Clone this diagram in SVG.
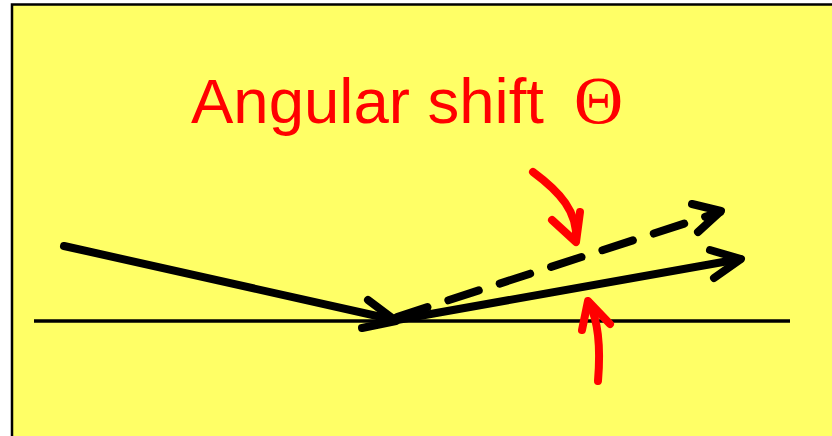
<svg xmlns="http://www.w3.org/2000/svg" width="832" height="436" viewBox="0 0 832 436">
<style>
.k{fill:none;stroke:#000;stroke-linecap:round;stroke-linejoin:round}
.r{fill:none;stroke:#f00;stroke-width:8;stroke-linecap:round;stroke-linejoin:round}
.t{fill:#f00;font-family:"Liberation Sans",Arial,sans-serif;font-size:63.5px}
</style>
<rect x="12" y="4.5" width="840" height="450" fill="#ffff66" stroke="#000" stroke-width="2.5"/>
<g id="title"><text class="t" x="191" y="123">Angular shift</text><text x="574" y="123" fill="#f00" font-family="Liberation Serif,serif" font-size="68">Θ</text></g>
<g id="surface"><line x1="34" y1="321" x2="790" y2="321" stroke="#000" stroke-width="3.5"/></g>
<g id="connectors">
<g id="incident"><path class="k" stroke-width="8" stroke-linecap="butt" d="M64,246 L395,320"/><path class="k" stroke-width="8" d="M368,300 L396,321 L362,328"/></g>
<g id="reflected"><path class="k" stroke-width="8" d="M397,320 L740,259"/><path class="k" stroke-width="8" d="M710,250 L741,259 L714,278"/></g>
<g id="shifted"><path class="k" stroke-width="8" stroke-linecap="butt" stroke-dasharray="32 22" d="M397,317 L720,212"/><path class="k" stroke-width="8" d="M692,204 L721,211 L698,232"/></g>
<g id="red-top"><path class="r" d="M533,172 C560,192 578,212 576,240"/><path class="r" d="M552,220 L576,242 L580,212"/></g>
<g id="red-bottom"><path class="r" d="M598,381 C601,345 598,320 589,303"/><path class="r" d="M582,330 L588,301 L610,324"/></g>
</g>
</svg>
